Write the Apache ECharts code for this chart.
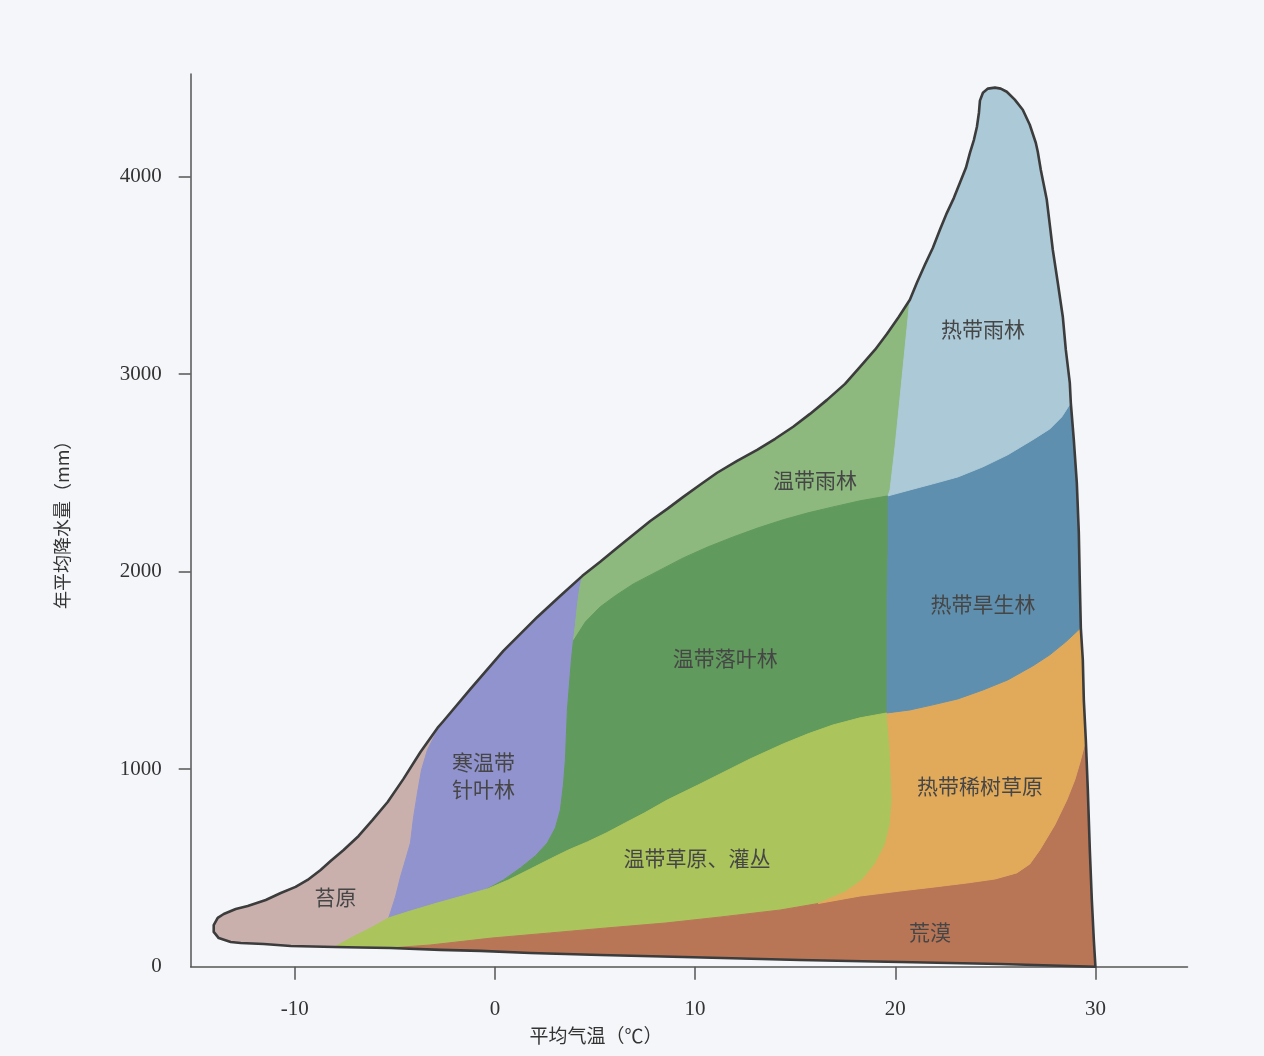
<!DOCTYPE html>
<html><head><meta charset="utf-8">
<script src="https://cdn.jsdelivr.net/npm/echarts@6/dist/echarts.min.js"></script>
<style>html,body{margin:0;padding:0;background:#f4f6f9}#c{width:1264px;height:1056px}</style>
</head><body><div id="c"></div>
<script>
// ---- Axis ticks ----
const xTicks = [-10, 0, 10, 20, 30];
const yTicks = [0, 1000, 2000, 3000, 4000];

// ---- Outer envelope pieces [temperature °C, precipitation mm] ----
const edgeTundra = [[-8.01,100],[-10.2,105],[-11.55,115],[-12.7,120],[-13.2,125],[-13.8,145],[-14.05,176],[-14.05,211],[-13.85,247],[-13.55,267],[-12.95,292],[-12.35,307],[-11.45,338],[-10.7,373],[-9.96,404],[-9.36,439],[-8.71,490],[-8.21,535],[-7.56,591],[-6.81,662],[-6.11,743],[-5.36,834],[-4.57,951],[-3.72,1087],[-2.87,1209],[-2.57,1244]];
const edgeBoreal = [[-2.57,1244],[-1.22,1407],[0.42,1599],[1.27,1685],[2.12,1771],[3.27,1878],[4.37,1979]];
const edgeTempRain = [[4.37,1979],[5.26,2050],[6.11,2121],[6.91,2187],[7.76,2257],[8.61,2318],[9.41,2379],[10.25,2440],[11.10,2501],[12.10,2561],[13.10,2617],[14.00,2673],[14.90,2734],[15.74,2799],[16.59,2870],[17.49,2951],[18.24,3037],[18.99,3124],[19.59,3205],[20.18,3291],[20.73,3377]];
const edgeTropRain = [[20.73,3377],[21.08,3463],[21.48,3554],[21.88,3640],[22.23,3731],[22.58,3817],[22.93,3893],[23.23,3969],[23.53,4045],[23.73,4121],[23.93,4187],[24.08,4253],[24.18,4324],[24.23,4385],[24.38,4425],[24.63,4446],[24.98,4451],[25.27,4446],[25.57,4430],[25.97,4390],[26.37,4339],[26.72,4263],[27.02,4172],[27.12,4126],[27.27,4035],[27.42,3959],[27.57,3883],[27.72,3757],[27.87,3630],[28.12,3463],[28.37,3291],[28.52,3124],[28.72,2956],[28.77,2855]];
const edgeTropDry = [[28.77,2855],[28.92,2668],[29.07,2450],[29.17,2197],[29.22,1943],[29.27,1716]];
const edgeSavanna = [[29.27,1716],[29.37,1553],[29.42,1351],[29.52,1148]];
const edgeDesert = [[29.52,1148],[29.62,895],[29.72,591],[29.82,338],[29.92,135],[30,0],[25.22,14],[20.23,24],[15.24,34],[9.41,49],[5.26,59],[1.77,69],[-0.72,80],[-2.72,85],[-5.21,95]];
const edgeGrass = [[-5.21,95],[-6.71,97],[-8.01,100]];

// ---- Interior boundaries between biomes ----
const bTundraBoreal = [[-2.57,1244],[-2.97,1179],[-3.37,1098],[-3.67,996],[-3.87,880],[-4.07,753],[-4.22,627],[-4.47,540],[-4.72,454],[-4.97,353],[-5.21,277],[-5.31,247]];
const bTundraGrass = [[-5.31,247],[-6.21,196],[-7.11,150],[-8.01,100]];
const bBorealGrass = [[-5.31,247],[-4.22,282],[-2.87,323],[-1.62,358],[-0.37,394]];
const bBorealDecid = [[-0.37,394],[0.42,439],[1.27,500],[2.02,561],[2.62,627],[3.02,703],[3.27,794],[3.42,920],[3.52,1047],[3.57,1174],[3.62,1300],[3.72,1427],[3.82,1553],[3.92,1650]];
const bBorealRain = [[3.92,1650],[4.02,1731],[4.12,1832],[4.22,1908],[4.37,1979]];
const bRainDecid = [[3.92,1650],[4.52,1746],[5.26,1822],[6.01,1878],[6.91,1938],[8.16,2004],[9.41,2070],[10.65,2126],[11.90,2176],[13.15,2222],[14.40,2263],[15.64,2298],[16.89,2328],[18.24,2359],[19.64,2384]];
const bDecidTrop = [[19.64,2384],[19.64,2111],[19.59,1857],[19.59,1604],[19.59,1285]];
const bRainTropRain = [[20.73,3377],[20.48,3124],[20.23,2870],[19.99,2632],[19.74,2414],[19.64,2384]];
const bTropRainDry = [[19.64,2384],[20.73,2414],[21.88,2445],[23.13,2480],[24.38,2531],[25.62,2592],[26.87,2668],[27.72,2723],[28.32,2784],[28.77,2855]];
const bDrySavanna = [[19.59,1285],[20.73,1300],[21.88,1326],[23.13,1356],[24.38,1401],[25.62,1452],[26.87,1523],[27.72,1579],[28.52,1645],[29.27,1716]];
const bGrassTop = [[-0.37,394],[0.67,439],[1.77,495],[2.77,546],[3.67,591],[4.62,632],[5.56,677],[6.51,728],[7.46,778],[8.61,844],[10.25,925],[12.75,1052],[14.40,1128],[15.64,1179],[16.89,1224],[18.24,1260],[19.59,1285]];
const bGrassSavanna = [[19.59,1285],[19.74,1098],[19.84,844],[19.74,718],[19.49,616],[18.99,520],[18.34,439],[17.49,378],[16.15,320]];
const bDesertGrass = [[-5.21,95],[-3.22,110],[-0.17,145],[2.77,171],[5.56,196],[8.51,221],[11.30,252],[14.25,287],[16.15,320]];
const bDesertSavanna = [[16.15,320],[18.24,358],[20.23,383],[21.98,404],[23.58,424],[24.98,444],[26.07,475],[26.72,520],[27.22,591],[27.97,718],[28.57,844],[28.97,946],[29.22,1032],[29.52,1148]];

// ---- Region labels ----
const labelNames = ['苔原', '寒温带\n针叶林', '温带雨林', '温带落叶林', '温带草原、灌丛', '荒漠', '热带稀树草原', '热带旱生林', '热带雨林'];
const labelPos = [[-7.96,353],[-0.57,966],[15.99,2465],[11.50,1564],[10.10,551],[21.73,176],[24.23,915],[24.38,1837],[24.38,3230]];

function rev(a){ return a.slice().reverse(); }
function join(){
  const out = [];
  for (const p of arguments) {
    p.forEach((pt, i) => {
      if (i === 0 && out.length) {
        const l = out[out.length - 1];
        if (l[0] === pt[0] && l[1] === pt[1]) return;
      }
      out.push(pt);
    });
  }
  return out;
}

const regions = [
  { color: '#c9b0ad', pts: join(edgeTundra, bTundraBoreal, bTundraGrass) },
  { color: '#9093cd', pts: join(edgeBoreal, rev(bBorealRain), rev(bBorealDecid), rev(bBorealGrass), rev(bTundraBoreal)) },
  { color: '#8db97e', pts: join(edgeTempRain, bRainTropRain, rev(bRainDecid), bBorealRain) },
  { color: '#619a5d', pts: join(bRainDecid, bDecidTrop, rev(bGrassTop), bBorealDecid) },
  { color: '#abc45b', pts: join(rev(bTundraGrass), bBorealGrass, bGrassTop, bGrassSavanna, rev(bDesertGrass), edgeGrass) },
  { color: '#b97657', pts: join(bDesertGrass, bDesertSavanna, edgeDesert) },
  { color: '#e1aa5b', pts: join(rev(bGrassSavanna), bDrySavanna, edgeSavanna, rev(bDesertSavanna)) },
  { color: '#5f8fae', pts: join(bTropRainDry, edgeTropDry, rev(bDrySavanna), rev(bDecidTrop)) },
  { color: '#abc9d7', pts: join(edgeTropRain, rev(bTropRainDry), rev(bRainTropRain)) }
];
const envelope = join(edgeTundra, edgeBoreal, edgeTempRain, edgeTropRain, edgeTropDry, edgeSavanna, edgeDesert, edgeGrass);

const series = regions.map(r => ({
  type: 'custom', coordinateSystem: 'cartesian2d', silent: true, z: 2,
  data: [[0, 0]],
  renderItem: (params, api) => ({
    type: 'polygon',
    shape: { points: r.pts.map(p => api.coord(p)) },
    style: { fill: r.color, stroke: r.color, lineWidth: 1 }
  })
}));
series.push({
  type: 'custom', coordinateSystem: 'cartesian2d', silent: true, z: 3,
  data: [[0, 0]],
  renderItem: (params, api) => ({
    type: 'polygon',
    shape: { points: envelope.map(p => api.coord(p)) },
    style: { fill: 'none', stroke: '#3c3c3c', lineWidth: 2.6, lineJoin: 'round' }
  })
});
series.push({
  type: 'custom', coordinateSystem: 'cartesian2d', silent: true, z: 4,
  data: labelPos.map((p, i) => [p[0], p[1], i]),
  renderItem: (params, api) => {
    const c = api.coord([api.value(0), api.value(1)]);
    return {
      type: 'text', x: c[0], y: c[1],
      style: {
        text: labelNames[api.value(2)], fill: '#464646',
        fontSize: 21, fontFamily: '"Noto Sans CJK SC", sans-serif', lineHeight: 27,
        align: 'center', verticalAlign: 'middle'
      }
    };
  }
});

const axisCommon = {
  type: 'value',
  axisLine: { show: true, onZero: false, lineStyle: { color: '#555', width: 1.5 } },
  axisTick: { show: true, inside: false, length: 12, lineStyle: { color: '#555', width: 1.5 } },
  splitLine: { show: false },
  axisLabel: { fontSize: 21, fontFamily: '"Liberation Serif", serif', color: '#333', formatter: v => String(v) }
};

const chart = echarts.init(document.getElementById('c'));
chart.setOption({
  backgroundColor: '#f4f6f9',
  animation: false,
  grid: { left: 190.7, right: 76.5, top: 74, bottom: 89.3, containLabel: false },
  xAxis: Object.assign({}, axisCommon, {
    min: -15.2, max: 34.6,
    axisTick: Object.assign({}, axisCommon.axisTick, { length: 13, customValues: xTicks }),
    axisLabel: Object.assign({}, axisCommon.axisLabel, { customValues: xTicks, margin: 32 }),
    name: '平均气温（℃）', nameLocation: 'middle', nameGap: 60,
    nameTextStyle: { fontSize: 19, fontFamily: '"Noto Sans CJK SC", sans-serif', color: '#333', padding: [0, 186, 0, 0] }
  }),
  yAxis: Object.assign({}, axisCommon, {
    min: 0, max: 4520,
    axisTick: Object.assign({}, axisCommon.axisTick, { customValues: yTicks.slice(1) }),
    axisLabel: Object.assign({}, axisCommon.axisLabel, { customValues: yTicks, margin: 29 }),
    name: '年平均降水量（mm）', nameLocation: 'middle', nameGap: 120,
    nameTextStyle: { fontSize: 18, fontFamily: '"Noto Sans CJK SC", sans-serif', color: '#333' }
  }),
  series: series
});
</script>
</body></html>
